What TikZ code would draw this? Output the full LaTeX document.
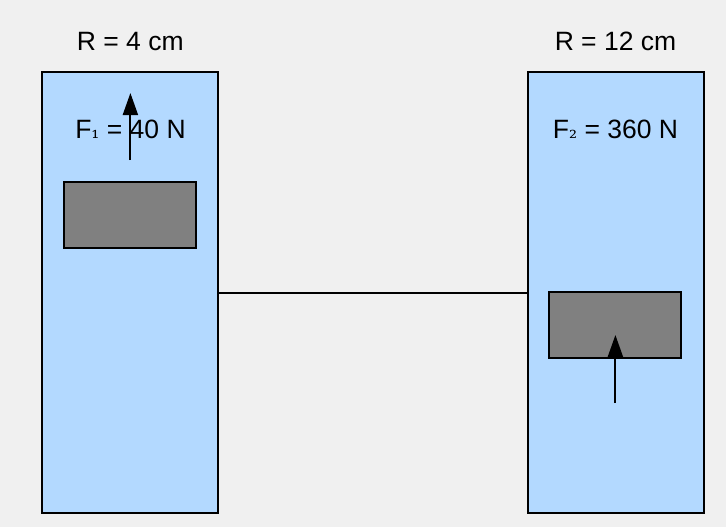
\documentclass[tikz,border=0pt]{standalone}
\usepackage{fontspec}
\usetikzlibrary{arrows.meta}
\setmainfont{Liberation Sans}
\newfontfamily\subdigit{DejaVu Serif}
\newcommand{\subnum}[1]{{\subdigit\fontsize{20}{20}\selectfont #1}}
\tikzset{
  x=1pt,y=-1pt,
  cylinder box/.style={draw=black,line width=2pt,fill=cylblue,minimum width=176pt,minimum height=441pt,inner sep=0pt},
  piston box/.style={draw=black,line width=2pt,fill=pistongrey,minimum width=132pt,minimum height=66pt,inner sep=0pt},
  label text/.style={font=\fontsize{26.5}{30}\selectfont,text=black,inner sep=0pt,anchor=base},
  link/.style={draw=black,line width=2pt},
  force/.style={draw=black,line width=2pt,-{Triangle[length=22pt,width=15pt]}},
}
\definecolor{cylblue}{HTML}{B3D9FF}
\definecolor{pistongrey}{HTML}{808080}
\definecolor{bggrey}{HTML}{F0F0F0}
\begin{document}
\begin{tikzpicture}
\useasboundingbox[fill=bggrey] (0,0) rectangle (726,527);
\node[cylinder box] (cylL) at (130.3,292.5) {};
\node[cylinder box] (cylR) at (615.5,292.5) {};
\node[piston box] (pistL) at (130.3,215) {};
\node[piston box] (pistR) at (615.4,325) {};
\node[label text] (radL) at (130.3,50.8) {R = 4 cm};
\node[label text] (radR) at (615.5,50.8) {R = 12 cm};
\node[label text] (forceL) at (130.5,138.5) {F\subnum{₁} = 40 N};
\node[label text] (forceR) at (615.5,138.5) {F\subnum{₂} = 360 N};
\coordinate (linkL) at (218,292.5);
\coordinate (linkR) at (528,292.5);
\draw[link] (linkL) -- (linkR);
\coordinate (arrLs) at (130.4,160);
\coordinate (arrLe) at (130.4,93);
\coordinate (arrRs) at (615.4,403);
\coordinate (arrRe) at (615.4,335);
\draw[force] (arrLs) -- (arrLe);
\draw[force] (arrRs) -- (arrRe);
\end{tikzpicture}
\end{document}
